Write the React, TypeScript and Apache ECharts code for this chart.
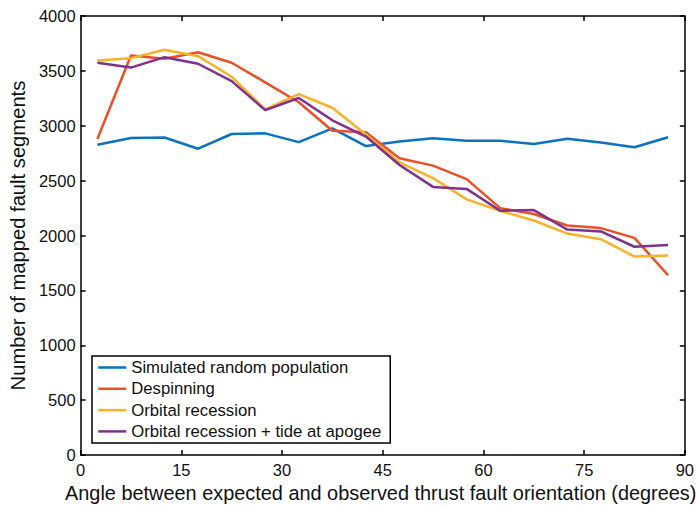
import React, { useEffect, useRef } from "react";
import * as echarts from "echarts";

const angles = [2.5, 7.5, 12.5, 17.5, 22.5, 27.5, 32.5, 37.5, 42.5, 47.5, 52.5, 57.5, 62.5, 67.5, 72.5, 77.5, 82.5, 87.5];
const simulated = [2827, 2889, 2893, 2791, 2925, 2931, 2851, 2976, 2815, 2857, 2887, 2863, 2863, 2833, 2881, 2848, 2804, 2896];
const despinning = [2880, 3640, 3610, 3670, 3574, 3396, 3214, 2955, 2940, 2705, 2637, 2514, 2250, 2196, 2092, 2068, 1979, 1640];
const orbital = [3595, 3616, 3693, 3634, 3447, 3149, 3289, 3164, 2920, 2666, 2523, 2330, 2226, 2137, 2018, 1967, 1809, 1818];
const orbitalTide = [3574, 3530, 3625, 3565, 3407, 3143, 3253, 3050, 2902, 2643, 2443, 2425, 2226, 2232, 2054, 2038, 1898, 1913];

const seriesNames = [
  "Simulated random population",
  "Despinning",
  "Orbital recession",
  "Orbital recession + tide at apogee",
];
const seriesColors = ["#0a72c0", "#ee5026", "#fbb22a", "#80308f"];
const xTitle = "Angle between expected and observed thrust fault orientation (degrees)";
const yTitle = "Number of mapped fault segments";

const FONT = "'Liberation Sans', Arial, Helvetica, sans-serif";

export default function App() {
  const ref = useRef<HTMLDivElement>(null);
  useEffect(() => {
    if (!ref.current) return;
    const chart = echarts.init(ref.current, null, { renderer: "svg" });
    const allData = [simulated, despinning, orbital, orbitalTide];
    const axisLine = { show: true, onZero: false, lineStyle: { color: "#000", width: 1.5 } };
    const axisTick = { show: true, inside: true, length: 5, lineStyle: { color: "#000", width: 1.5 } };
    chart.setOption({
      animation: false,
      textStyle: { fontFamily: FONT },
      grid: { left: 74, right: 11, top: 16, bottom: 44, containLabel: false },
      legend: {
        orient: "vertical",
        left: 92,
        top: 356,
        padding: [3, 9, 3, 5],
        itemWidth: 28,
        itemHeight: 14,
        itemGap: 4.3,
        borderColor: "#000",
        borderWidth: 1.5,
        backgroundColor: "#fff",
        itemStyle: { opacity: 0 },
        lineStyle: { width: 2.5 },
        textStyle: { fontFamily: FONT, fontSize: 16.7, color: "#111", lineHeight: 17 },
        data: seriesNames,
      },
      xAxis: [
        {
          type: "value",
          min: 0,
          max: 90,
          interval: 15,
          position: "bottom",
          axisLine,
          axisTick,
          splitLine: { show: false },
          axisLabel: { fontFamily: FONT, fontSize: 16.5, color: "#111", margin: 6 },
          name: xTitle,
          nameLocation: "middle",
          nameGap: 26,
          nameTextStyle: { fontFamily: FONT, fontSize: 19.9, color: "#111", padding: [0, 4, 0, 0] },
        },
        {
          type: "value",
          min: 0,
          max: 90,
          interval: 15,
          position: "top",
          axisLine,
          axisTick,
          splitLine: { show: false },
          axisLabel: { show: false },
        },
      ],
      yAxis: [
        {
          type: "value",
          min: 0,
          max: 4000,
          interval: 500,
          position: "left",
          axisLine,
          axisTick,
          splitLine: { show: false },
          axisLabel: {
            fontFamily: FONT,
            fontSize: 16.5,
            color: "#111",
            margin: 5,
            formatter: (v: number) => String(v),
          },
          name: yTitle,
          nameLocation: "middle",
          nameGap: 47,
          nameTextStyle: { fontFamily: FONT, fontSize: 20.2, color: "#111" },
        },
        {
          type: "value",
          min: 0,
          max: 4000,
          interval: 500,
          position: "right",
          axisLine,
          axisTick,
          splitLine: { show: false },
          axisLabel: { show: false },
        },
      ],
      series: seriesNames.map((name, i) => ({
        name,
        type: "line",
        xAxisIndex: 0,
        yAxisIndex: 0,
        symbol: "none",
        color: seriesColors[i],
        lineStyle: { color: seriesColors[i], width: 2.5 },
        data: angles.map((a, j) => [a, allData[i][j]]),
      })),
    });
    return () => chart.dispose();
  }, []);
  return (
    <div
      ref={ref}
      style={{ position: "fixed", left: 0, top: 0, width: 697, height: 508, background: "#fff" }}
    />
  );
}
